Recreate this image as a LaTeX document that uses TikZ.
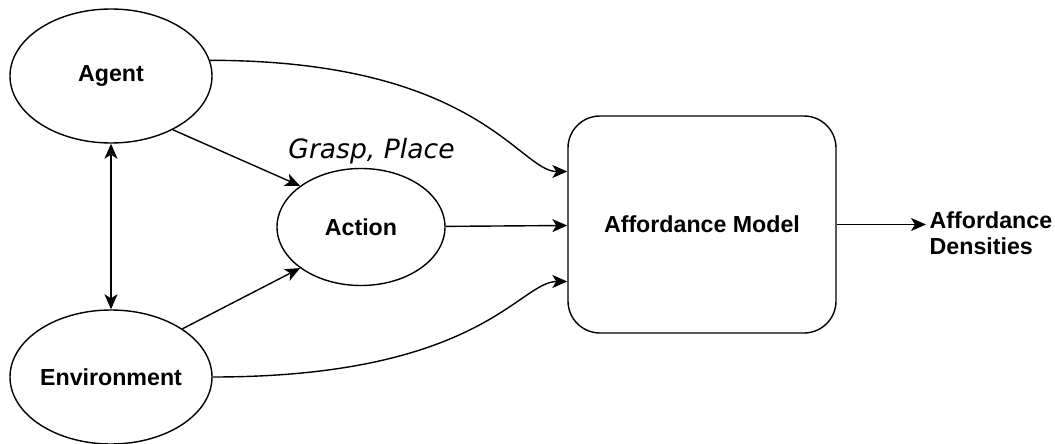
\documentclass[tikz,border=0pt]{standalone}
\usepackage{fontspec}
\setmainfont{Liberation Sans}
\newfontfamily\graspfont{DejaVu Sans}
\usetikzlibrary{shapes.geometric,arrows.meta}

\begin{document}
\begin{tikzpicture}[x=0.5pt,y=-0.5pt,line width=0.7pt,>={Stealth[length=7.5pt,width=6.5pt,inset=2pt]},main node/.style={ellipse,draw,inner sep=0pt,font=\bfseries\fontsize{11.6}{13}\selectfont},model node/.style={rectangle,draw,rounded corners=16pt,minimum width=134pt,minimum height=108.5pt,font=\bfseries\fontsize{11.6}{13}\selectfont}]
			
			\useasboundingbox (0,0) rectangle (1055,444);
			
			\node[main node,minimum width=101pt,minimum height=67pt] (agent) at (111,76) {Agent};
			\node[main node,minimum width=101pt,minimum height=67pt] (env) at (111,377) {Environment};
			\node[main node,minimum width=84pt,minimum height=58.5pt] (action) at (361,227) {Action};
			\node[model node] (model) at (702,224.5) {Affordance Model};
			\node[anchor=west,inner sep=0pt,align=left,font=\bfseries\fontsize{11.6}{13}\selectfont] (dens) at (929,233) {Affordance\\Densities};
			\node[anchor=base,inner sep=0pt,font=\graspfont\itshape\fontsize{13.3}{15}\selectfont] (grasp) at (371.5,158) {Grasp, Place};
			
			\draw[<->] (agent) -- (env);
			
			\draw[->] (agent.-41.5) -- (action.146);
			\draw[->] (env.34) -- (action.214);
			\draw[->] (action) -- (model);
			
			\draw[->] (agent.9) .. controls +(268,0) and +(-48,0) .. ([yshift=26.5pt]model.west);
			\draw[->] (env.east) .. controls +(268,0) and +(-48,0) .. ([yshift=-28.5pt]model.west);
			
			\draw[->] (model.east) -- ([xshift=-1.5pt]model.east -| dens.west);
			\end{tikzpicture}
\end{document}
